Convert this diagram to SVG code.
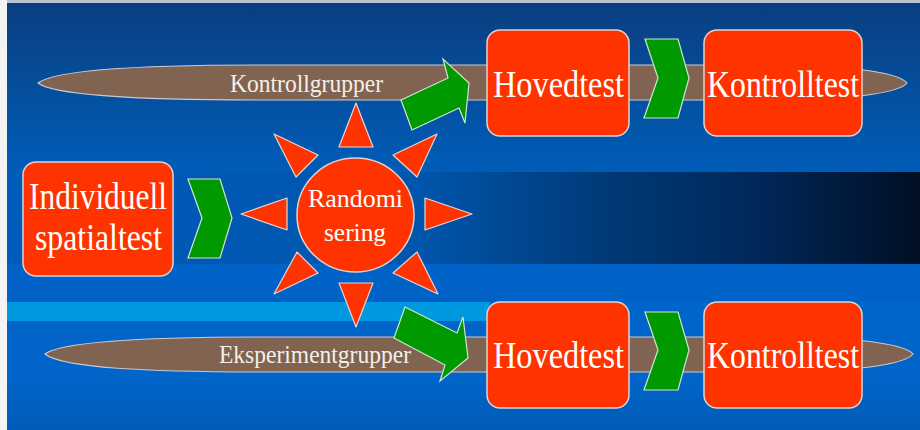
<svg xmlns="http://www.w3.org/2000/svg" width="920" height="430" viewBox="0 0 920 430">
  <defs>
    <linearGradient id="bgTop" x1="0" y1="0" x2="0" y2="1">
      <stop offset="0" stop-color="#0a3e80"/>
      <stop offset="0.55" stop-color="#04509f"/>
      <stop offset="1" stop-color="#005cb8"/>
    </linearGradient>
    <linearGradient id="bgBottom" x1="0" y1="0" x2="0" y2="1">
      <stop offset="0" stop-color="#0066cc"/>
      <stop offset="0.7" stop-color="#0064c8"/>
      <stop offset="1" stop-color="#005bb8"/>
    </linearGradient>
    <linearGradient id="darkBand" gradientUnits="userSpaceOnUse" x1="7" y1="0" x2="920" y2="0">
      <stop offset="0" stop-color="#005cba"/>
      <stop offset="0.45" stop-color="#0056ad"/>
      <stop offset="0.65" stop-color="#003a78"/>
      <stop offset="0.82" stop-color="#00285a"/>
      <stop offset="1" stop-color="#000f24"/>
    </linearGradient>
    <style>
      .lane { fill: #816352; stroke: #c9c9d4; stroke-width: 1.2; }
      .box { fill: #ff3300; stroke: #e2d2d2; stroke-width: 1.5; }
      .ray { fill: #ff3300; stroke: #e6d6d6; stroke-width: 1.2; stroke-linejoin: round; }
      .go { fill: #009900; stroke: #cfe5cf; stroke-width: 1.2; stroke-linejoin: miter; }
      .label { font-family: "Liberation Serif", "Times New Roman", serif; fill: #ffffff; }
      .big { font-size: 38px; }
      .mid { font-size: 26px; }
      .lanetext { font-size: 26px; fill: #f4efe8; }
    </style>
  </defs>

  <!-- backdrop -->
  <rect x="0" y="0" width="920" height="430" fill="#f4f4f4"/>
  <rect x="7" y="0" width="913" height="3" fill="#b9c4d2"/>
  <rect x="7" y="3" width="913" height="170" fill="url(#bgTop)"/>
  <rect x="7" y="172" width="913" height="92" fill="url(#darkBand)"/>
  <rect x="7" y="264" width="913" height="166" fill="url(#bgBottom)"/>
  <rect x="7" y="264" width="913" height="38" fill="#0062c6"/>
  <rect x="7" y="302" width="483" height="19" fill="#0099e0"/>

  <!-- group lanes -->
  <g id="lane-kontroll">
    <path class="lane" d="M38,83 C55,70 140,65 260,65 L780,65 C860,66 900,74 907,83 C900,92 860,99 780,100 L260,100 C140,100 55,96 38,83 Z"/>
    <text class="label lanetext" x="230" y="92" textLength="153" lengthAdjust="spacingAndGlyphs">Kontrollgrupper</text>
  </g>
  <g id="lane-eksperiment">
    <path class="lane" d="M45,354 C62,341 147,337 267,337 L785,337 C866,338 906,345 913,354 C906,363 866,371 785,372 L267,372 C147,372 62,368 45,354 Z"/>
    <text class="label lanetext" x="219" y="363" textLength="192" lengthAdjust="spacingAndGlyphs">Eksperimentgrupper</text>
  </g>

  <!-- connectors -->
  <g id="connectors">
    <polygon class="go" points="188,179 220,179 232,218 220,258 188,258 202,218"/>
    <polygon class="go" points="401,100 448,78 443,59 469,83 465,123 459,108 412,130"/>
    <polygon class="go" points="405,307 457,333 463,317 468,358 440,381 445,365 394,338"/>
    <polygon class="go" points="645,39 678,39 689,78 678,118 644,118 658,78"/>
    <polygon class="go" points="645,312 678,312 689,350 678,390 644,390 658,350"/>
  </g>

  <!-- start node -->
  <g id="node-individuell">
    <rect class="box" x="23" y="162" width="150" height="114" rx="13"/>
    <text class="label big" x="29" y="209" textLength="138" lengthAdjust="spacingAndGlyphs">Individuell</text>
    <text class="label big" x="35" y="250" textLength="127" lengthAdjust="spacingAndGlyphs">spatialtest</text>
  </g>

  <!-- randomisation sun -->
  <g id="node-randomisering">
    <polygon class="ray" points="339,147 373,147 356,103"/>
    <polygon class="ray" points="339,283 373,283 356,327"/>
    <polygon class="ray" points="287,198 287,230 241,214"/>
    <polygon class="ray" points="425,198 425,230 472,214"/>
    <polygon class="ray" points="274,134 318,155 296,177"/>
    <polygon class="ray" points="437,134 393,155 417,177"/>
    <polygon class="ray" points="274,294 297,252 318,273"/>
    <polygon class="ray" points="438,294 417,252 393,273"/>
    <ellipse class="box" cx="355.5" cy="215" rx="58.5" ry="57"/>
    <text class="label mid" x="308" y="207" textLength="95" lengthAdjust="spacingAndGlyphs">Randomi</text>
    <text class="label mid" x="324" y="241" textLength="62" lengthAdjust="spacingAndGlyphs">sering</text>
  </g>

  <!-- control group -->
  <g id="node-hovedtest-kontroll">
    <rect class="box" x="487" y="30" width="142" height="106" rx="13"/>
    <text class="label big" x="493" y="97" textLength="131" lengthAdjust="spacingAndGlyphs">Hovedtest</text>
  </g>
  <g id="node-kontrolltest-kontroll">
    <rect class="box" x="704" y="30" width="158" height="106" rx="13"/>
    <text class="label big" x="707" y="97" textLength="152" lengthAdjust="spacingAndGlyphs">Kontrolltest</text>
  </g>

  <!-- experiment group -->
  <g id="node-hovedtest-eksperiment">
    <rect class="box" x="487" y="302" width="142" height="106" rx="13"/>
    <text class="label big" x="493" y="368" textLength="131" lengthAdjust="spacingAndGlyphs">Hovedtest</text>
  </g>
  <g id="node-kontrolltest-eksperiment">
    <rect class="box" x="704" y="302" width="158" height="106" rx="13"/>
    <text class="label big" x="707" y="368" textLength="152" lengthAdjust="spacingAndGlyphs">Kontrolltest</text>
  </g>
</svg>
